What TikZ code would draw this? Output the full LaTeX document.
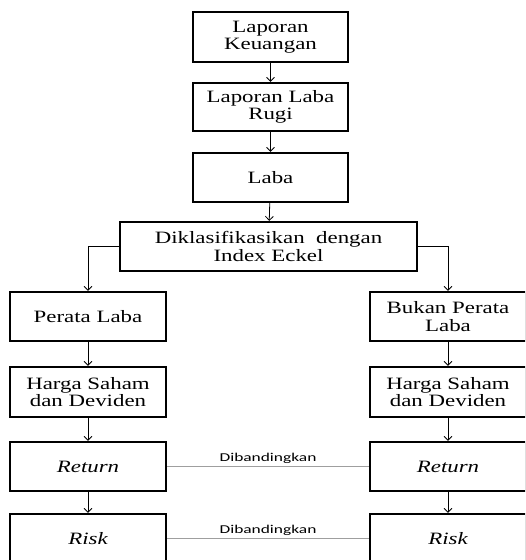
\documentclass[tikz,border=0pt]{standalone}
\usepackage{fontspec}
\setmainfont{Liberation Serif}[FakeStretch=1.32]
\newfontfamily\cmpfont{Carlito}[FakeStretch=1.45]
\usetikzlibrary{arrows.meta}

\begin{document}
\begin{tikzpicture}[x=0.75pt,y=0.75pt,
	kotak/.style={draw,line width=1.7pt,inner sep=0pt,align=center,
		minimum height=49*0.75pt,
		font=\fontsize{13}{13}\selectfont},
	panah/.style={-{Straight Barb[length=3pt,width=6pt]},line width=0.6pt},
	banding/.style={draw=gray!75,line width=0.8pt},
	teks/.style={font=\cmpfont\fontsize{9}{10}\selectfont,above,inner sep=1.5pt}]
\useasboundingbox (0,0) rectangle (525,-560);
\clip (0,0) rectangle (525,-560);
% alur utama
\node[kotak,minimum width=155*0.75pt,minimum height=50*0.75pt] (lk) at (270.5,-37) {Laporan\\Keuangan};
\node[kotak,minimum width=155*0.75pt,minimum height=48*0.75pt] (lr) at (270.5,-107) {Laporan Laba\\Rugi};
\node[kotak,minimum width=155*0.75pt] (lb) at (270.5,-177.5) {Laba};
\node[kotak,minimum width=297*0.75pt] (dk) at (268.5,-246.5) {Diklasifikasikan\ \ dengan\\Index Eckel};
% kiri
\node[kotak,minimum width=156*0.75pt] (pl) at (88,-316.5) {Perata Laba};
\node[kotak,minimum width=156*0.75pt,minimum height=50*0.75pt] (hs1) at (88,-392) {Harga Saham\\dan Deviden};
\node[kotak,minimum width=156*0.75pt] (rt1) at (88,-466.5) {\itshape Return};
\node[kotak,minimum width=156*0.75pt] (rk1) at (88,-538.5) {\itshape Risk};
% kanan
\node[kotak,minimum width=156*0.75pt] (bp) at (448,-316.5) {Bukan Perata\\Laba};
\node[kotak,minimum width=156*0.75pt,minimum height=50*0.75pt] (hs2) at (448,-392) {Harga Saham\\dan Deviden};
\node[kotak,minimum width=156*0.75pt] (rt2) at (448,-466.5) {\itshape Return};
\node[kotak,minimum width=156*0.75pt] (rk2) at (448,-538.5) {\itshape Risk};
% panah
\draw[panah] (lk) -- (lr);
\draw[panah] (lr) -- (lb);
\draw[panah] (lb) -- (dk);
\draw[panah] (dk.west) -| (pl.north);
\draw[panah] (dk.east) -| (bp.north);
\draw[panah] (pl) -- (hs1);
\draw[panah] (hs1) -- (rt1);
\draw[panah] (rt1) -- (rk1);
\draw[panah] (bp) -- (hs2);
\draw[panah] (hs2) -- (rt2);
\draw[panah] (rt2) -- (rk2);
% perbandingan
\draw[banding] (rt1) -- node[teks,text=black] {Dibandingkan} (rt2);
\draw[banding] (rk1) -- node[teks,text=black] {Dibandingkan} (rk2);
\end{tikzpicture}
\end{document}
